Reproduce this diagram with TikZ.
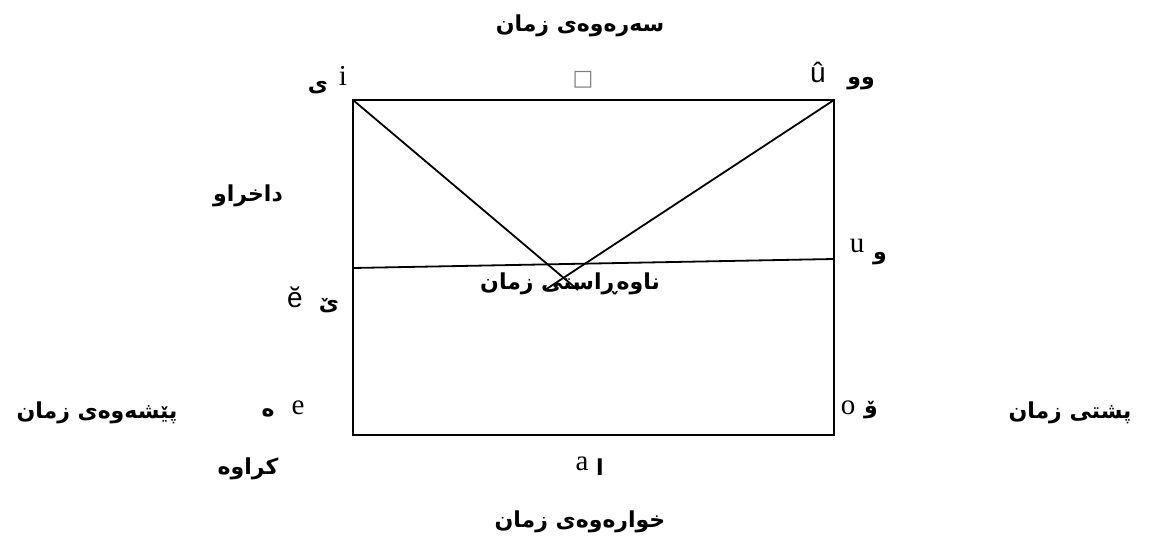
\documentclass[tikz,border=0pt]{standalone}
\usepackage{fontspec}
\setmainfont{Liberation Serif}
\newfontfamily\arb[Script=Arabic]{DejaVu Sans}
\newfontfamily\lsans{Liberation Sans}
\newfontfamily\symf{DejaVu Sans}
\TeXXeTstate=1
\begin{document}
\begin{tikzpicture}[x=1pt,y=-1pt,
  ar/.style={font=\arb\bfseries\fontsize{22}{26}\selectfont, inner sep=0pt},
  lat/.style={font=\fontsize{29}{33}\selectfont, inner sep=0pt},
  lats/.style={font=\lsans\fontsize{28}{32}\selectfont, inner sep=0pt},
  edge/.style={line width=1.8pt, black}]
\useasboundingbox (0,0) rectangle (1156,548);
% frame corners
\coordinate (tl) at (353,100);
\coordinate (tr) at (834,100);
\coordinate (br) at (834,435);
\coordinate (bl) at (353,435);
\coordinate (ml) at (353,268);
\coordinate (mr) at (834,259);
\coordinate (vl) at (578,290);
\coordinate (vr) at (545,290);
\draw[edge] (tl) -- (tr) -- (br) -- (bl) -- cycle;
\draw[edge] (ml) -- (mr);
\draw[edge] (tl) -- (vl);
\draw[edge] (tr) -- (vr);
% texts
\node[ar] (top) at (580,26) {\beginR سەرەوەی زمان\endR};
\node[ar] (bot) at (580,522) {\beginR خوارەوەی زمان\endR};
\node[ar] (mid) at (570,284) {\beginR ناوەڕاستی زمان\endR};
\node[ar] (closed) at (248,196) {\beginR داخراو\endR};
\node[ar] (open) at (248,469) {\beginR کراوە\endR};
\node[ar] (front) at (97,413) {\beginR پێشەوەی زمان\endR};
\node[ar] (back) at (1070,413) {\beginR پشتی زمان\endR};
% vowels
\node[ar] (yi) at (318,88) {\beginR ی\endR};
\node[lat] (i) at (343,76) {i};
\node[font=\symf\fontsize{22}{26}\selectfont, text=gray, inner sep=0pt] (box) at (583,80) {□};
\node[lats] (uhat) at (818,72) {û};
\node[ar] (ww) at (861,84) {\beginR وو\endR};
\node[lat] (u) at (857,246) {u};
\node[ar] (w) at (880,259) {\beginR و\endR};
\node[lats] (ebreve) at (295,297) {ĕ};
\node[ar] (yv) at (329,306) {\beginR یٚ\endR};
\node[ar] (he) at (268,413) {\beginR ە\endR};
\node[lat] (e) at (298,408) {e};
\node[lat] (o) at (848,408) {o};
\node[ar] (wv) at (871,410) {\beginR ۆ\endR};
\node[lat] (a) at (582,464) {a};
\node[ar] (alef) at (600,467) {\beginR ا\endR};
\end{tikzpicture}
\end{document}
